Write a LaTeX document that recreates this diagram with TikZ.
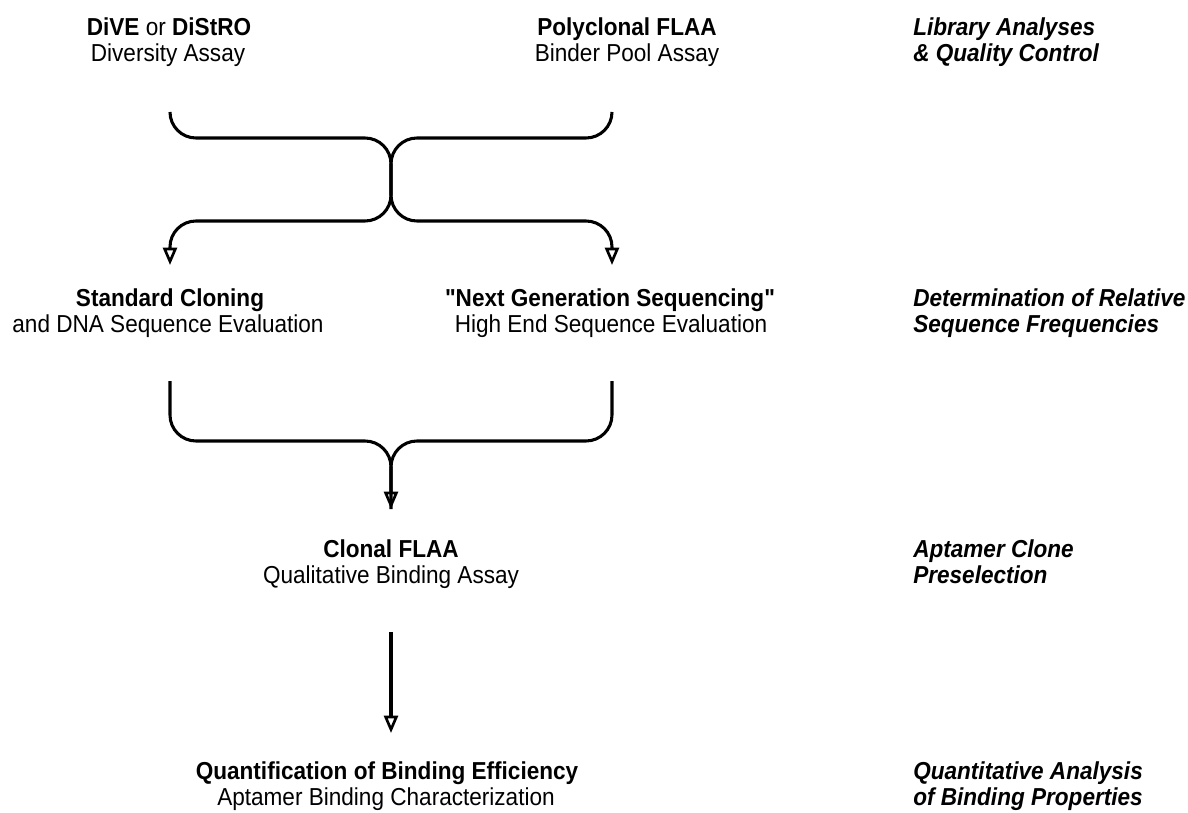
\documentclass[tikz,border=0pt]{standalone}
\usepackage{fontspec}
\setmainfont{Liberation Sans}[FakeStretch=0.92, Ligatures=TeXOff]
\usetikzlibrary{arrows.meta}
\begin{document}
\begin{tikzpicture}[x=0.75pt,y=-0.75pt,
  lbl/.style={inner sep=0pt, anchor=base, font=\fontsize{18.4pt}{19.5pt}\selectfont},
  head/.style={lbl, font=\fontsize{18.4pt}{19.5pt}\selectfont\bfseries},
  stage/.style={inner sep=0pt, anchor=base west, font=\fontsize{18.4pt}{19.5pt}\selectfont\bfseries\itshape},
  link/.style={line width=2.3pt, rounded corners=19.5pt},
  tip/.style={-{Triangle[open,length=13pt,width=10.5pt,line width=2pt]}}
]
\useasboundingbox (0,0) rectangle (1188,813);

% assay labels
\node[lbl]  (diveT) at (169,36) {\textbf{DiVE} or \textbf{DiStRO}};
\node[lbl]  (diveS) at (168,62) {Diversity Assay};
\node[head] (polyT) at (627,36) {Polyclonal FLAA};
\node[lbl]  (polyS) at (627,62) {Binder Pool Assay};

\node[head] (clonT) at (170,306) {Standard Cloning};
\node[lbl]  (clonS) at (168,332) {and DNA Sequence Evaluation};
\node[head] (ngsT)  at (610,306) {"Next Generation Sequencing"};
\node[lbl]  (ngsS)  at (611,332) {High End Sequence Evaluation};

\node[head] (flaaT) at (391,557) {Clonal FLAA};
\node[lbl]  (flaaS) at (391,583) {Qualitative Binding Assay};

\node[head] (quanT) at (387,779) {Quantification of Binding Efficiency};
\node[lbl]  (quanS) at (386,805) {Aptamer Binding Characterization};

% stage descriptions
\node[stage] (st1a) at (913,36)  {Library Analyses};
\node[stage] (st1b) at (913,62)  {\& Quality Control};
\node[stage] (st2a) at (913,306) {Determination of Relative};
\node[stage] (st2b) at (913,332) {Sequence Frequencies};
\node[stage] (st3a) at (913,557) {Aptamer Clone};
\node[stage] (st3b) at (913,583) {Preselection};
\node[stage] (st4a) at (913,779) {Quantitative Analysis};
\node[stage] (st4b) at (913,805) {of Binding Properties};

% connector end points
\coordinate (aL)  at (170,112);
\coordinate (aR)  at (612,112);
\coordinate (aLo) at (170,265);
\coordinate (aRo) at (612,265);
\coordinate (bL)  at (170,381);
\coordinate (bR)  at (612,381);
\coordinate (bJ)  at (391,441);
\coordinate (bO)  at (391,509);
\coordinate (cI)  at (391,632);
\coordinate (cO)  at (391,733);

% crossing brace: each assay feeds both sequencing routes
\draw[link,tip] (aL) -- (170,138) -- (391,138) -- (391,221) -- (612,221) -- (aRo);
\draw[link,tip] (aR) -- (612,138) -- (391,138) -- (391,221) -- (170,221) -- (aLo);

% merging brace
\draw[link,tip] (bL) |- (bJ) -- (bO);
\draw[link]     (bR) |- (bJ) -- (bO);

% final step
\draw[line width=2.3pt,tip] (cI) -- (cO);
\end{tikzpicture}
\end{document}
